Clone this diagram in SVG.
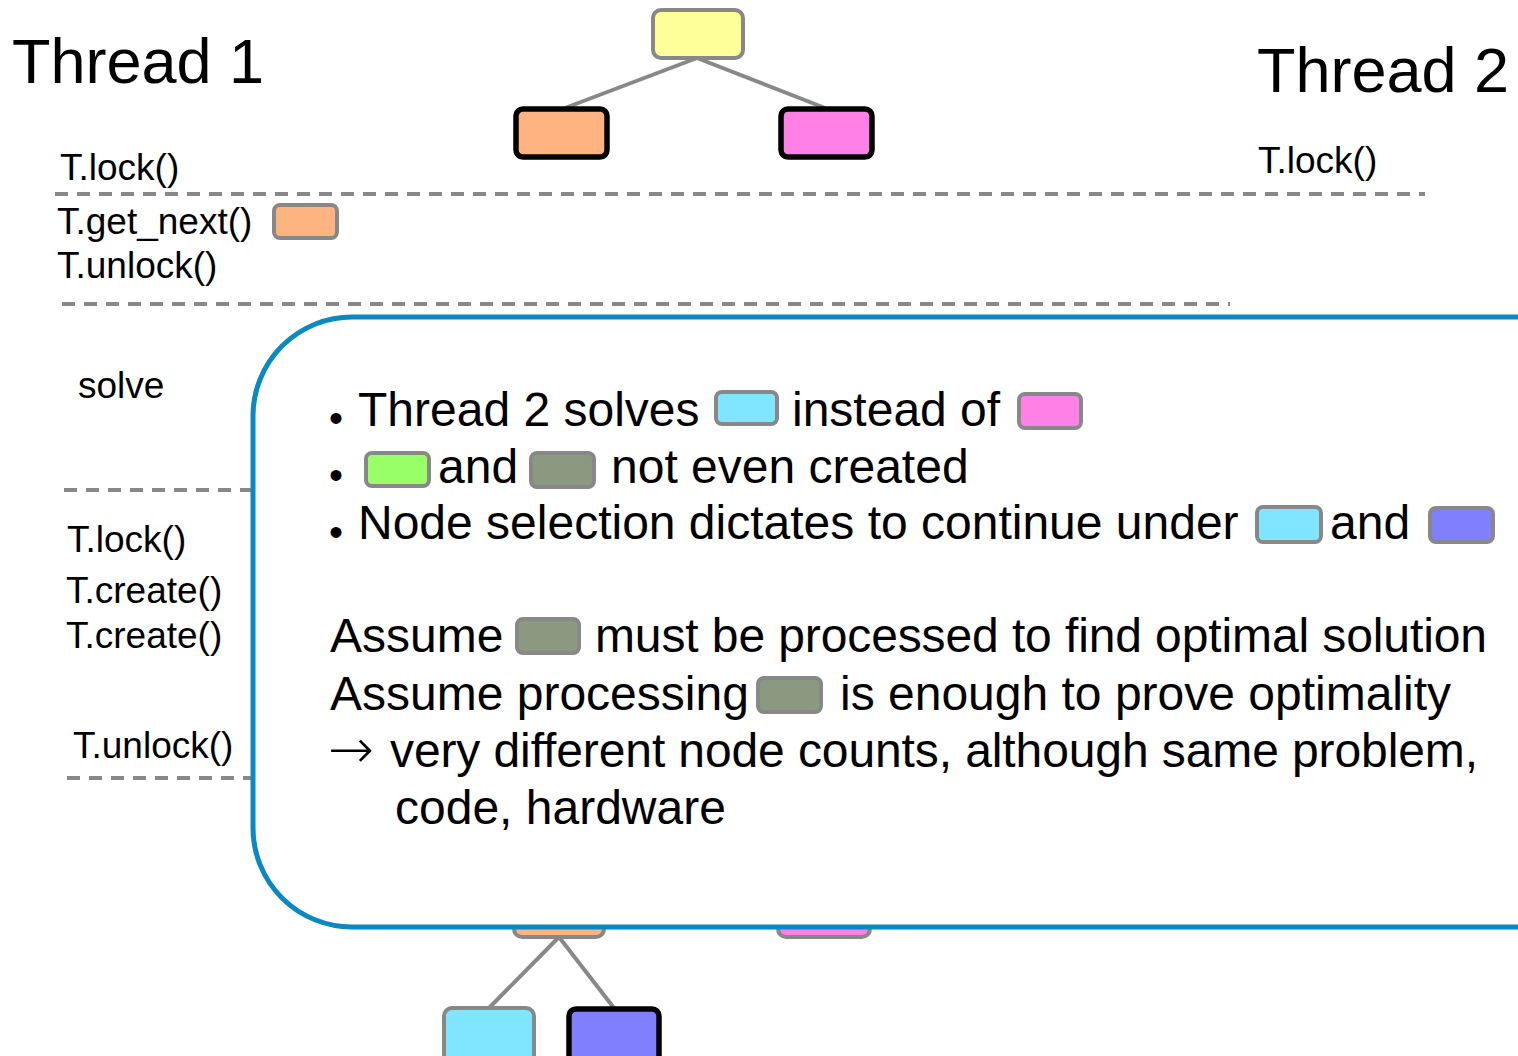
<svg xmlns="http://www.w3.org/2000/svg" width="1518" height="1056" viewBox="0 0 1518 1056">
  <style>
    text { font-family: "Liberation Sans", Arial, sans-serif; fill: #000; }
    .title { font-size: 63px; }
    .call { font-size: 37px; }
    .body { font-size: 48px; }
    .bullet { font-size: 40px; }
    .arrow { font-family: "DejaVu Sans", sans-serif; font-weight: 200; font-size: 55px; }
    .dash { stroke: #888; stroke-width: 4; stroke-dasharray: 13 9; fill: none; }
    .edge { stroke: #888; stroke-width: 4; fill: none; }
    .node { stroke: #888; stroke-width: 4; }
    .sel { stroke: #000; stroke-width: 5.5; }
    .sw { stroke: #888; stroke-width: 4; }
    .yellow { fill: #ffff99; }
    .orange { fill: #ffb380; }
    .pink { fill: #ff80e6; }
    .cyan { fill: #80e5ff; }
    .blue { fill: #8080ff; }
    .green { fill: #99ff66; }
    .olive { fill: #8b9980; }
  </style>
  <rect width="1518" height="1056" fill="#fff"/>

  <!-- headings -->
  <text class="title" x="12" y="83">Thread 1</text>
  <text class="title" x="1257" y="92">Thread 2</text>

  <!-- phase separators -->
  <g id="separators">
    <line class="dash" x1="55" y1="194" x2="1425" y2="194"/>
    <line class="dash" x1="62" y1="304" x2="1230" y2="304"/>
    <line class="dash" x1="64" y1="490" x2="258" y2="490"/>
    <line class="dash" x1="67" y1="778" x2="258" y2="778"/>
  </g>

  <!-- thread 1 calls -->
  <g id="thread1-calls">
    <text class="call" x="60" y="180">T.lock()</text>
    <text class="call" x="57" y="234">T.get_next()</text>
    <rect class="sw orange" x="274" y="205" width="63" height="33" rx="6"/>
    <text class="call" x="57" y="278">T.unlock()</text>
    <text class="call" x="78" y="398">solve</text>
    <text class="call" x="67" y="552">T.lock()</text>
    <text class="call" x="66" y="603">T.create()</text>
    <text class="call" x="66" y="648">T.create()</text>
    <text class="call" x="73" y="758">T.unlock()</text>
  </g>

  <!-- thread 2 calls -->
  <g id="thread2-calls">
    <text class="call" x="1258" y="173">T.lock()</text>
  </g>

  <!-- tree edges -->
  <g id="connectors">
    <line class="edge" x1="697" y1="58" x2="565" y2="108"/>
    <line class="edge" x1="697" y1="58" x2="825" y2="108"/>
    <line class="edge" x1="559" y1="937" x2="489" y2="1008"/>
    <line class="edge" x1="559" y1="937" x2="614" y2="1008"/>
  </g>

  <!-- tree nodes -->
  <g id="root"><rect class="node yellow" x="653" y="10" width="90" height="48" rx="8"/></g>
  <g id="top-left"><rect class="sel orange" x="516" y="109" width="91" height="48" rx="7"/></g>
  <g id="top-right"><rect class="sel pink" x="781" y="109" width="91" height="48" rx="7"/></g>
  <g id="lower-left"><rect class="node orange" x="514" y="888" width="90" height="49" rx="8"/></g>
  <g id="lower-right"><rect class="node pink" x="778" y="888" width="92" height="49" rx="8"/></g>
  <g id="child-cyan"><rect class="node cyan" x="444" y="1008" width="90" height="60" rx="8"/></g>
  <g id="child-blue"><rect class="sel blue" x="569" y="1009" width="90" height="60" rx="7"/></g>

  <!-- explanation callout -->
  <g id="callout">
    <path d="M1530 317 H352 A99 99 0 0 0 253 416 V828 A99 99 0 0 0 352 927 H1530" fill="#fff" stroke="#0a88c0" stroke-width="5"/>

    <text class="bullet" x="329" y="432">•</text>
    <text class="body" x="358" y="426">Thread 2 solves</text>
    <rect class="sw cyan" x="716" y="392" width="61" height="32" rx="6"/>
    <text class="body" x="792" y="426">instead of</text>
    <rect class="sw pink" x="1019" y="394" width="62" height="34" rx="6"/>

    <text class="bullet" x="329" y="489">•</text>
    <rect class="sw green" x="366" y="453" width="63" height="33" rx="6"/>
    <text class="body" x="438" y="483">and</text>
    <rect class="sw olive" x="531" y="453" width="63" height="34" rx="6"/>
    <text class="body" x="611" y="483">not even created</text>

    <text class="bullet" x="329" y="546">•</text>
    <text class="body" x="358" y="539">Node selection dictates to continue under</text>
    <rect class="sw cyan" x="1257" y="507" width="64" height="35" rx="6"/>
    <text class="body" x="1330" y="539">and</text>
    <rect class="sw blue" x="1430" y="508" width="63" height="34" rx="6"/>

    <text class="body" x="330" y="652">Assume</text>
    <rect class="sw olive" x="517" y="619" width="62" height="34" rx="6"/>
    <text class="body" x="595" y="652" textLength="892">must be processed to find optimal solution</text>

    <text class="body" x="330" y="710">Assume processing</text>
    <rect class="sw olive" x="758" y="678" width="63" height="34" rx="6"/>
    <text class="body" x="840" y="710">is enough to prove optimality</text>

    <text class="arrow" x="328" y="768">→</text>
    <text class="body" x="390" y="767" textLength="1088">very different node counts, although same problem,</text>
    <text class="body" x="395" y="824">code, hardware</text>
  </g>
</svg>
